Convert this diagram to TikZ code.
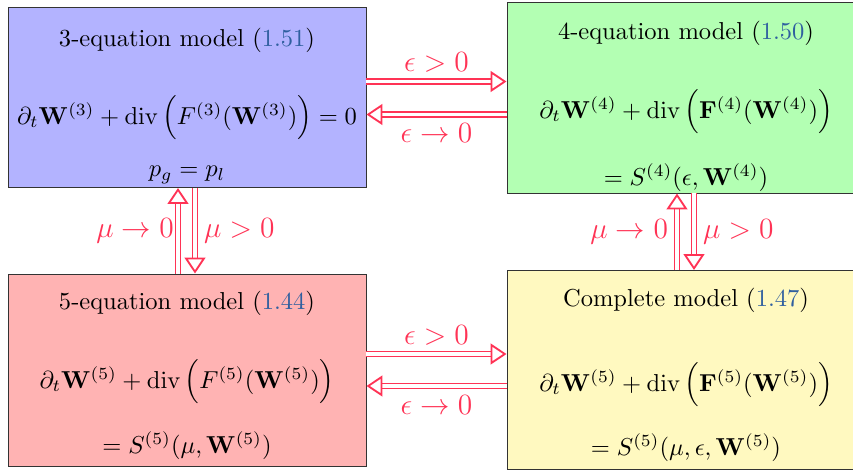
\documentclass[tikz,border=0pt]{standalone}
\usepackage{amsmath,amssymb}
\usepackage{xcolor}
\usepackage{tikz}
\usetikzlibrary{calc,arrows.meta,positioning}
\definecolor{arrc}{HTML}{FF3355}
\definecolor{refc}{HTML}{2F5F9F}
\definecolor{threebg}{HTML}{B3B3FF}
\definecolor{fourbg}{HTML}{B3FFB3}
\definecolor{fivebg}{HTML}{FFB3B3}
\definecolor{fullbg}{HTML}{FFF9C0}
\newcommand{\pxu}{0.408pt}
\newcommand{\mref}[1]{(\textcolor{refc}{#1})}
\tikzset{
  imp/.style={draw=arrc,line width=0.75pt,double=white,double distance=1.3pt,
    -{Triangle[open,length=6.5pt,width=8.5pt]}},
  mbox/.style={draw=black!80,minimum width=358*\pxu},
  lab/.style={text=arrc,font=\large}
}
\begin{document}
\begin{tikzpicture}[x=\pxu,y=-\pxu]
\useasboundingbox (0,0) rectangle (853,472);
% the four models
\node[mbox,fill=threebg,minimum height=180*\pxu] (m3) at (187,97.5) {};
\node[mbox,fill=fourbg,minimum height=191*\pxu] (m4) at (686,97.5) {};
\node[mbox,fill=fivebg,minimum height=192*\pxu] (m5) at (187,370) {};
\node[mbox,fill=fullbg,minimum height=199*\pxu] (mc) at (686,370) {};
% texts
\node at (187,40) {3-equation model \mref{1.51}};
\node at (187,118) {$\partial_t\mathbf{W}^{(3)}+\operatorname{div}\Big(F^{(3)}(\mathbf{W}^{(3)})\Big)=0$};
\node at (187,175) {$p_g=p_l$};
\node at (686,33) {4-equation model \mref{1.50}};
\node at (686,112) {$\partial_t\mathbf{W}^{(4)}+\operatorname{div}\Big(\mathbf{F}^{(4)}(\mathbf{W}^{(4)})\Big)$};
\node at (686,178) {$=S^{(4)}(\epsilon,\mathbf{W}^{(4)})$};
\node at (187,303) {5-equation model \mref{1.44}};
\node at (187,382) {$\partial_t\mathbf{W}^{(5)}+\operatorname{div}\Big(F^{(5)}(\mathbf{W}^{(5)})\Big)$};
\node at (187,446) {$=S^{(5)}(\mu,\mathbf{W}^{(5)})$};
\node at (686,300) {Complete model \mref{1.47}};
\node at (686,385) {$\partial_t\mathbf{W}^{(5)}+\operatorname{div}\Big(\mathbf{F}^{(5)}(\mathbf{W}^{(5)})\Big)$};
\node at (686,448) {$=S^{(5)}(\mu,\epsilon,\mathbf{W}^{(5)})$};
% limits between models
\draw[imp] ($(m3.east)+(0,-16)$) -- ($(m4.west)+(0,-16)$) node[lab,midway,above]{$\epsilon>0$};
\draw[imp] ($(m4.west)+(0,17)$) -- ($(m3.east)+(0,17)$) node[lab,midway,below]{$\epsilon\to0$};
\draw[imp] ($(m5.east)+(0,-16)$) -- ($(mc.west)+(0,-16)$) node[lab,midway,above]{$\epsilon>0$};
\draw[imp] ($(mc.west)+(0,16)$) -- ($(m5.east)+(0,16)$) node[lab,midway,below]{$\epsilon\to0$};
\draw[imp] ($(m5.north)+(-9,0)$) -- ($(m3.south)+(-9,0)$) node[lab,midway,left,xshift=2pt]{$\mu\to0$};
\draw[imp] ($(m3.south)+(8,0)$) -- ($(m5.north)+(8,0)$) node[lab,midway,right]{$\mu>0$};
\draw[imp] ($(mc.north)+(-9,0)$) -- ($(m4.south)+(-9,0)$) node[lab,midway,left]{$\mu\to0$};
\draw[imp] ($(m4.south)+(8,0)$) -- ($(mc.north)+(8,0)$) node[lab,midway,right]{$\mu>0$};
\end{tikzpicture}
\end{document}
